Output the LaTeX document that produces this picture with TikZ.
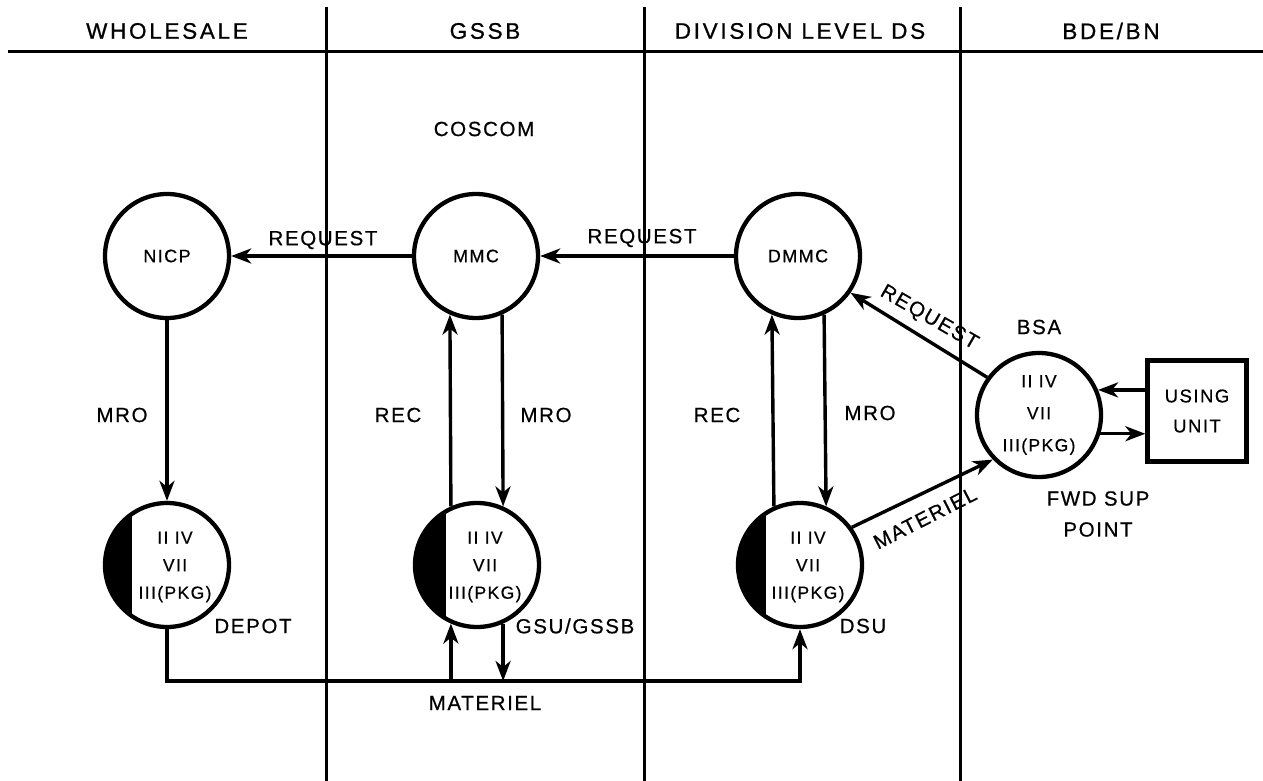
\documentclass[tikz,border=0pt]{standalone}
\usepackage{fontspec}
\setmainfont{Liberation Sans}[LetterSpace=8,FakeBold=0.6]
\newfontfamily\headfont{Liberation Sans}[LetterSpace=12,FakeBold=0.8]
\usetikzlibrary{arrows.meta}

\begin{document}
\begin{tikzpicture}[x=1pt,y=1pt,yscale=-1,xscale=1,
  ring/.style={draw,circle,line width=4.3pt,minimum size=124pt,inner sep=0pt,align=center},
  flow/.style={line width=3.4pt,-{Stealth[length=20pt,width=15pt,inset=6pt]}},
  lane/.style={line width=3pt},
  lbl/.style={font=\fontsize{20.5}{24}\selectfont},
  hdr/.style={font=\headfont\fontsize{22.5}{26}\selectfont},
  ctxt/.style={align=center,font=\fontsize{17.5}{27.5}\selectfont}]
\useasboundingbox (0,0) rectangle (1263,781);

%Straight Lines (lanes)
\draw[lane] (8,52) -- (1263,52) ;
\draw[lane] (326,7) -- (326,781) ;
\draw[lane] (644,7) -- (644,781) ;
\draw[lane] (960,7) -- (960,781) ;

% Text Node (headers)
\draw (167,31) node[hdr] (wholesale) {WHOLESALE};
\draw (485,31) node[hdr] (gssbhead) {GSSB};
\draw (800,31) node[hdr] (divhead) {DIVISION LEVEL DS};
\draw (1111,31) node[hdr] (bdehead) {BDE/BN};

%Shape: Circle (upper row)
\draw (167,256) node[ring,font=\fontsize{18}{22}\selectfont] (nicp) {NICP};
\draw (476,256) node[ring,font=\fontsize{18}{22}\selectfont] (mmc) {MMC};
\draw (798,256) node[ring,font=\fontsize{18}{22}\selectfont] (dmmc) {DMMC};

%Shape: Circle (lower row)
\draw (167,565) node[ring] (depot) {};
\draw (477,565) node[ring] (gsu) {};
\draw (800,565) node[ring] (dsu) {};

%Shape: black segments
\begin{scope}
\clip (depot.center) circle (62);
\fill (depot.center) ++(-35,-70) rectangle ++(-40,140);
\end{scope}
\begin{scope}
\clip (gsu.center) circle (62);
\fill (gsu.center) ++(-31,-70) rectangle ++(-40,140);
\end{scope}
\begin{scope}
\clip (dsu.center) circle (62);
\fill (dsu.center) ++(-34,-70) rectangle ++(-40,140);
\end{scope}

% Text Node (inside lower circles)
\draw (175,567) node[ctxt] (depottxt) {II IV\\VII\\III(PKG)};
\draw (485,567) node[ctxt] (gsutxt) {II IV\\VII\\III(PKG)};
\draw (808,567) node[ctxt] (dsutxt) {II IV\\VII\\III(PKG)};

%Shape: Circle (BSA)
\draw (1039,415) node[ring,font=\fontsize{17.5}{32}\selectfont] (bsa) {II IV\\VII\\III(PKG)};
%Shape: Rectangle
\draw (1197,411) node[draw,line width=4.3pt,minimum width=99pt,minimum height=101pt,align=center,font=\fontsize{18.5}{30}\selectfont] (unit) {USING\\UNIT};

%Straight Lines (requests)
\draw[flow] (mmc) -- (nicp) ;
\draw[flow] (dmmc) -- (mmc) ;
\draw[flow] (bsa.144) -- (dmmc.-35) ;

%Straight Lines (MRO / REC)
\draw[flow] (nicp) -- (depot) ;
\draw[flow] (gsu.114) -- (mmc.-114) ;
\draw[flow] (mmc.-66) -- (gsu.66) ;
\draw[flow] (dsu.114) -- (dmmc.-114) ;
\draw[flow] (dmmc.-66) -- (dsu.66) ;

%Straight Lines (materiel)
\coordinate (mline) at (0,681);
\draw[flow] (depot.south) |- (dsu.south |- mline) -- (dsu.south) ;
\draw[flow] (gsu.-114 |- mline) -- (gsu.-114) ;
\draw[flow] (gsu.-66) -- (gsu.-66 |- mline) ;
\draw[flow] (dsu.36) -- (bsa.224) ;
\draw[flow] (unit.west |- bsa.23) -- (bsa.23) ;
\draw[flow] (bsa.-17) -- (unit.west |- bsa.-17) ;

% Text Node
\draw (484,129) node[lbl] (coscom) {COSCOM};
\draw (323,240) node[lbl] (req1) {REQUEST};
\draw (642,238) node[lbl] (req2) {REQUEST};
\draw (929,318) node[lbl,rotate=-30] (req3) {REQUEST};
\draw (122,415) node[lbl] (mro1) {MRO};
\draw (398,415) node[lbl] (rec1) {REC};
\draw (546,415) node[lbl] (mro2) {MRO};
\draw (717,415) node[lbl] (rec2) {REC};
\draw (870,413) node[lbl] (mro3) {MRO};
\draw (253,626) node[lbl] (depotlbl) {DEPOT};
\draw (575,626) node[lbl] (gsulbl) {GSU/GSSB};
\draw (863,626) node[lbl] (dsulbl) {DSU};
\draw (485,703) node[lbl] (mat1) {MATERIEL};
\draw (925,518) node[lbl,rotate=27] (mat2) {MATERIEL};
\draw (1039,327) node[lbl] (bsalbl) {BSA};
\draw (1098,514) node[lbl,align=center,font=\fontsize{20.5}{31}\selectfont] (fwd) {FWD SUP\\POINT};

\end{tikzpicture}
\end{document}
